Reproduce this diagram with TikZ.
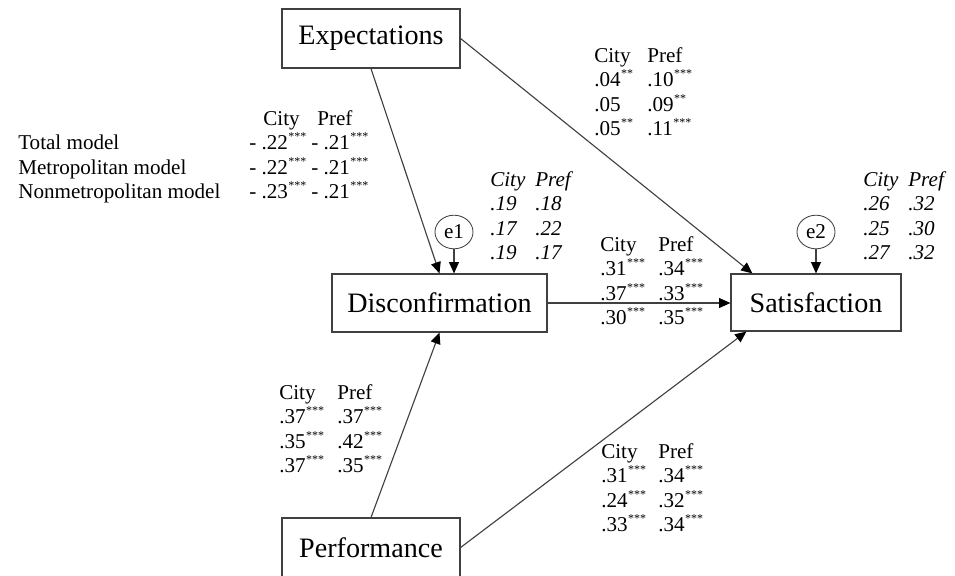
\documentclass[tikz,border=0pt]{standalone}
\usepackage{fontspec}
\setmainfont{Liberation Serif}
\usetikzlibrary{arrows.meta,shapes.geometric}
\newcommand{\sig}[1]{\raisebox{0.42em}{\fontsize{8.5}{8.5}\selectfont\kern0.3pt#1}}
\newcommand{\coef}[2]{\begin{tabular}[t]{@{}p{#1}@{}l@{}}#2\end{tabular}}

\begin{document}
\begin{tikzpicture}[x=0.025cm,y=-0.025cm,>={Triangle[length=8pt,width=7pt,color=black]},
  blk/.style={draw=black!75,line width=0.8pt,rectangle,minimum height=1.45cm,
    font=\fontsize{20}{24}\selectfont},
  err/.style={draw=black!75,line width=0.6pt,ellipse,minimum width=0.95cm,
    minimum height=0.84cm,inner sep=0pt,font=\fontsize{15}{17}\selectfont},
  lbl/.style={anchor=base west,inner sep=0pt,font=\fontsize{15}{17.5}\selectfont},
  ital/.style={lbl,font=\fontsize{15}{17.5}\selectfont\itshape},
  lnk/.style={->,draw=black!75,line width=0.8pt}]
\clip (0,0) rectangle (955,575);
\node[blk,minimum width=4.45cm,minimum height=1.475cm] (exp) at (371,38.5) {Expectations};
\node[blk,minimum width=5.375cm] (dis) at (439.5,303) {Disconfirmation};
\node[blk,minimum width=4.25cm,minimum height=1.425cm] (sat) at (816,302.5) {Satisfaction};
\node[blk,minimum width=4.45cm,minimum height=1.475cm] (perf) at (371,547.5) {Performance};
\node[err] (e1) at (454,232) {e1};
\node[err] (e2) at (816,232) {e2};
\draw[lnk] (exp.south) -- (dis.north);
\draw[lnk] (exp.east) -- ([xshift=0.55cm]sat.north west);
\draw[lnk] (dis.east) -- (dis.east -| sat.west);
\draw[lnk] (perf.north) -- (dis.south);
\draw[lnk] (perf.east) -- ([xshift=0.4cm]sat.south west);
\draw[lnk] (e1) -- (e1 |- dis.north);
\draw[lnk] (e2) -- (sat.north);
% path coefficients
\node[lbl] (ted) at (18,125) {\begin{tabular}[t]{@{}p{5.775cm}@{}p{1.55cm}@{}l@{}}
  & \hspace{0.35cm}City & \hspace{0.15cm}Pref\\
  Total model & \mbox{- .22\sig{***}} & \mbox{- .21\sig{***}}\\
  Metropolitan model & \mbox{- .22\sig{***}} & \mbox{- .21\sig{***}}\\
  Nonmetropolitan model & \mbox{- .23\sig{***}} & \mbox{- .21\sig{***}}
\end{tabular}};
\node[lbl] (tes) at (594,62) {\coef{1.325cm}{City & Pref\\
  .04\sig{**} & .10\sig{***}\\ .05 & .09\sig{**}\\ .05\sig{**} & .11\sig{***}}};
\node[lbl] (tds) at (600,251) {\coef{1.45cm}{City & Pref\\
  .31\sig{***} & .34\sig{***}\\ .37\sig{***} & .33\sig{***}\\ .30\sig{***} & .35\sig{***}}};
\node[lbl] (tpd) at (279,399) {\coef{1.45cm}{City & Pref\\
  .37\sig{***} & .37\sig{***}\\ .35\sig{***} & .42\sig{***}\\ .37\sig{***} & .35\sig{***}}};
\node[lbl] (tps) at (601,458) {\coef{1.425cm}{City & Pref\\
  .31\sig{***} & .34\sig{***}\\ .24\sig{***} & .32\sig{***}\\ .33\sig{***} & .34\sig{***}}};
% explained variance
\node[ital] (rd) at (490,186) {\coef{1.125cm}{City & Pref\\ .19 & .18\\ .17 & .22\\ .19 & .17}};
\node[ital] (rs) at (863,186) {\coef{1.125cm}{City & Pref\\ .26 & .32\\ .25 & .30\\ .27 & .32}};
\end{tikzpicture}
\end{document}
